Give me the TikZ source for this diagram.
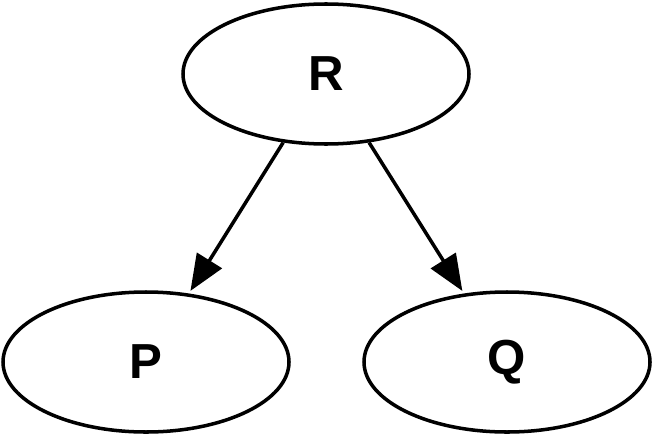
\documentclass[tikz,border=0pt]{standalone}
\usepackage{fontspec}
\setmainfont{Liberation Sans}
\usetikzlibrary{arrows.meta,shapes.geometric}
\tikzset{
  statenode/.style={draw,ellipse,line width=2pt,minimum width=5.72cm,minimum height=2.8cm,inner sep=0pt,
    font=\fontsize{28}{30}\selectfont\bfseries},
  edgearrow/.style={line width=2pt,-{Triangle[length=0.72cm,width=0.58cm]},shorten >=0.06cm}
}
\begin{document}
\begin{tikzpicture}
\useasboundingbox (0,0) rectangle (13.06,8.74);
\node[statenode] (R) at (6.52,7.26) {R};
\node[statenode] (P) at (2.92,1.50) {P};
\node[statenode] (Q) at (10.14,1.50) {Q};
\draw[edgearrow] (R) -- (P);
\draw[edgearrow] (R) -- (Q);
\end{tikzpicture}
\end{document}
